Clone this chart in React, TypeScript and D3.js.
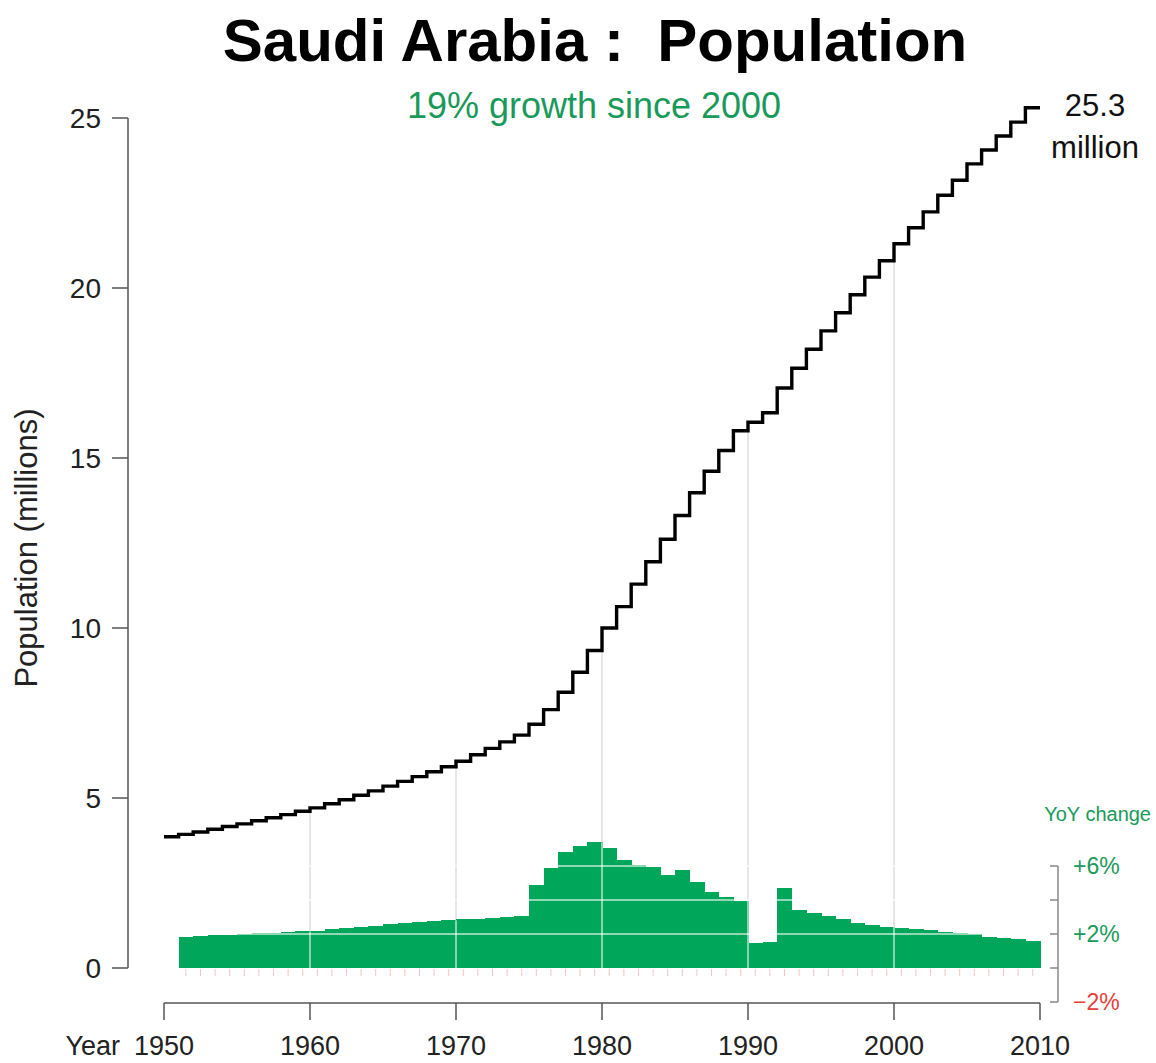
import React from 'react';
import * as d3 from 'd3';

// Population (millions), each value spans [year, year+1]
const popYears = d3.range(1950, 2010);
const population = [
  3.86, 3.93, 4.00, 4.08, 4.16, 4.24, 4.33, 4.42, 4.51, 4.61,
  4.71, 4.83, 4.95, 5.08, 5.21, 5.35, 5.49, 5.63, 5.77, 5.92,
  6.08, 6.27, 6.46, 6.65, 6.85, 7.17, 7.60, 8.11, 8.70, 9.34,
  10.0, 10.63, 11.29, 11.95, 12.61, 13.31, 13.98, 14.61, 15.22, 15.80,
  16.05, 16.33, 17.06, 17.64, 18.2, 18.74, 19.27, 19.8, 20.32, 20.8,
  21.3, 21.77, 22.24, 22.73, 23.17, 23.65, 24.06, 24.47, 24.88, 25.3,
];

// Year-over-year change (%), years 1951..2009
const growthYears = d3.range(1951, 2010);
const growth = [
  1.84, 1.88, 1.92, 1.96, 2.0, 2.04, 2.08, 2.12, 2.16,
  2.2, 2.27, 2.35, 2.43, 2.5, 2.57, 2.65, 2.7, 2.76, 2.81,
  2.86, 2.91, 2.96, 3.01, 3.06, 4.9, 5.9, 6.8, 7.2, 7.4,
  7.06, 6.35, 6.06, 5.94, 5.47, 5.76, 5.06, 4.47, 4.2, 3.94,
  1.47, 1.53, 4.7, 3.4, 3.25, 3.08, 2.86, 2.67, 2.53, 2.43,
  2.33, 2.3, 2.25, 2.14, 2.05, 1.98, 1.84, 1.75, 1.69, 1.61,
];

const xTicks = [1950, 1960, 1970, 1980, 1990, 2000, 2010];
const gridYears = [1960, 1970, 1980, 1990, 2000];
const yTicks = [0, 5, 10, 15, 20, 25];
const gTicks = [-2, 0, 2, 4, 6];
const gLabels = [
  { v: 6, text: '+6%' },
  { v: 2, text: '+2%' },
  { v: -2, text: '\u22122%' },
];

const W = 1156;
const H = 1063;
const FONT = '"Liberation Sans", Arial, Helvetica, sans-serif';
const GREEN = '#00a65a';
const TEXT_GREEN = '#1a9a5a';
const RED = '#e5403a';
const AXIS = '#555';

export default function App() {
  const x = d3.scaleLinear().domain([1950, 2010]).range([164, 1040]);
  const y = d3.scaleLinear().domain([0, 25]).range([968, 118]);
  const yg = d3.scaleLinear().domain([-2, 6]).range([1002, 866]);

  const stepPts: [number, number][] = popYears.map((yr, i) => [yr, population[i]]);
  stepPts.push([2010, population[population.length - 1]]);
  const line = d3
    .line<[number, number]>()
    .x((d) => x(d[0]))
    .y((d) => y(d[1]))
    .curve(d3.curveStepAfter);

  const popAt = (yr: number) => population[popYears.indexOf(yr)];

  return (
    <svg
      width={W}
      height={H}
      style={{ position: 'absolute', left: 0, top: 0, background: '#fff' }}
      fontFamily={FONT}
    >
      {/* Title */}
      <text x={595} y={61} textAnchor="middle" fontSize={60} fontWeight="bold" fill="#000" style={{ whiteSpace: 'pre' }}>
        {'Saudi Arabia :  Population'}
      </text>
      <text x={594} y={118} textAnchor="middle" fontSize={36} fill={TEXT_GREEN}>
        19% growth since 2000
      </text>

      {/* decade gridlines up to the population line */}
      {gridYears.map((yr) => (
        <line
          key={'g' + yr}
          x1={x(yr)}
          x2={x(yr)}
          y1={y(0)}
          y2={y(popAt(yr - 1))}
          stroke="#dedede"
          strokeWidth={1.5}
        />
      ))}

      {/* YoY bars */}
      <g shapeRendering="crispEdges">
        {growthYears.map((yr, i) => (
          <rect
            key={'b' + yr}
            x={x(yr)}
            y={yg(growth[i])}
            width={x(yr + 1) - x(yr) + 0.6}
            height={yg(0) - yg(growth[i])}
            fill={GREEN}
          />
        ))}
      </g>

      {/* white reference lines over bars */}
      {[2, 4, 6].map((v) => (
        <line key={'h' + v} x1={x(1951)} x2={x(2010)} y1={yg(v)} y2={yg(v)} stroke="#fff" strokeOpacity={0.75} strokeWidth={1.5} />
      ))}
      {gridYears.map((yr) => {
        const gi = growthYears.indexOf(yr - 1);
        return (
          <line
            key={'gw' + yr}
            x1={x(yr)}
            x2={x(yr)}
            y1={yg(0)}
            y2={yg(growth[gi])}
            stroke="#fff"
            strokeOpacity={0.7}
            strokeWidth={1.5}
          />
        );
      })}

      {/* faint pink ticks under bars */}
      {growthYears.map((yr) => (
        <line key={'p' + yr} x1={x(yr + 0.5)} x2={x(yr + 0.5)} y1={yg(0) + 1} y2={yg(0) + 8} stroke="#f6c4c4" strokeWidth={1} />
      ))}

      {/* population step line */}
      <path d={line(stepPts) || ''} fill="none" stroke="#000" strokeWidth={3.4} strokeLinejoin="miter" />

      {/* end label */}
      <text x={1095} y={116} textAnchor="middle" fontSize={31} fill="#111">25.3</text>
      <text x={1095} y={158} textAnchor="middle" fontSize={31} fill="#111">million</text>

      {/* left axis */}
      <line x1={128} x2={128} y1={y(0)} y2={y(25)} stroke={AXIS} strokeWidth={1.5} />
      {yTicks.map((t) => (
        <g key={'yt' + t}>
          <line x1={112} x2={128} y1={y(t)} y2={y(t)} stroke={AXIS} strokeWidth={1.5} />
          <text x={101} y={y(t)} dy="0.36em" textAnchor="end" fontSize={28} fill="#222">
            {t}
          </text>
        </g>
      ))}
      <text transform={`translate(37,548) rotate(-90)`} textAnchor="middle" fontSize={31} fill="#222">
        Population (millions)
      </text>

      {/* bottom axis */}
      <line x1={x(1950)} x2={x(2010)} y1={1003} y2={1003} stroke={AXIS} strokeWidth={1.5} />
      {xTicks.map((t) => (
        <g key={'xt' + t}>
          <line x1={x(t)} x2={x(t)} y1={1003} y2={1020} stroke={AXIS} strokeWidth={1.5} />
          <text x={x(t)} y={1055} textAnchor="middle" fontSize={27} fill="#222">
            {t}
          </text>
        </g>
      ))}
      <text x={120} y={1055} textAnchor="end" fontSize={27} fill="#222">Year</text>

      {/* right YoY axis */}
      <line x1={1058} x2={1058} y1={yg(-2)} y2={yg(6)} stroke="#888" strokeWidth={1.5} />
      {gTicks.map((t) => (
        <line key={'gt' + t} x1={1050} x2={1058} y1={yg(t)} y2={yg(t)} stroke="#888" strokeWidth={1.5} />
      ))}
      {gLabels.map((l) => (
        <text key={'gl' + l.v} x={1073} y={yg(l.v)} dy="0.36em" fontSize={23} fill={l.v < 0 ? RED : TEXT_GREEN}>
          {l.text}
        </text>
      ))}
      <text x={1151} y={821} textAnchor="end" fontSize={20} fill={TEXT_GREEN}>YoY change</text>
    </svg>
  );
}
